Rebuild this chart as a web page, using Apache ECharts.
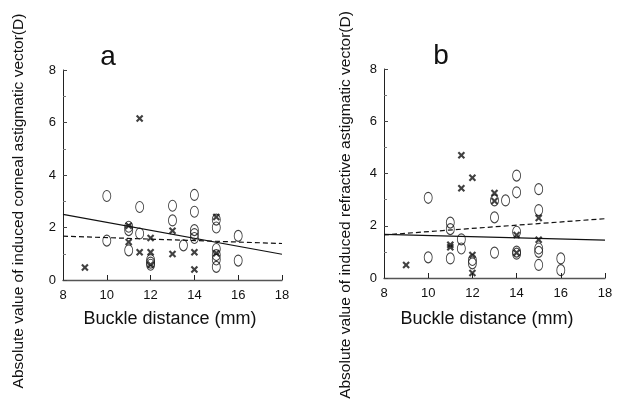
<!DOCTYPE html>
<html>
<head>
<meta charset="utf-8">
<script src="https://cdn.jsdelivr.net/npm/echarts@6/dist/echarts.min.js"></script>
<style>
  html, body { margin: 0; padding: 0; background: #fff; }
  #chart { width: 617px; height: 402px; }
</style>
</head>
<body>
<div id="chart"></div>
<script>
  // values: [buckle distance (mm), |vector| (D)]
  const aCircles = [[10,3.2],[10,1.5],[11,2.03],[11,1.9],[11,1.13],[11.5,2.78],[11.5,1.77],
    [12,0.76],[12,0.66],[12,0.58],[13,2.83],[13,2.27],[13.5,1.32],[14,3.24],[14,2.6],
    [14,1.9],[14,1.75],[14,1.6],[15,2.3],[15,2.0],[15,1.18],[15,0.95],[15,0.78],[15,0.5],
    [16,1.68],[16,0.74]];
  const aCrosses = [[9,0.48],[11.5,6.15],[11,2.07],[11,1.45],[11.5,1.06],[12,1.6],[12,1.06],
    [12,0.58],[13,1.88],[13,0.99],[14,1.06],[14,0.4],[15,2.4],[15,1.02]];
  const aSolid = [[8,2.5],[18,0.98]];
  const aDashed = [[8,1.67],[18,1.39]];

  const bCircles = [[10,3.07],[10,0.79],[11,2.12],[11,1.87],[11,0.75],[11.5,1.48],[11.5,1.13],
    [12,0.69],[12,0.56],[13,2.97],[13,2.32],[13,0.97],[13.5,2.97],[14,3.92],[14,3.28],
    [14,1.77],[14,1.01],[14,0.93],[15,3.4],[15,2.6],[15,1.13],[15,1.0],[15,0.5],
    [16,0.75],[16,0.3]];
  const bCrosses = [[9,0.5],[11.5,4.7],[11.5,3.44],[12,3.84],[11,1.27],[11,1.18],[12,0.88],
    [12,0.19],[13,3.25],[13,2.95],[14,1.65],[14,0.97],[15,2.3],[15,1.46]];
  const bSolid = [[8,1.67],[18,1.45]];
  const bDashed = [[8,1.65],[18,2.27]];

  const xTicks = { min: 8, max: 18, interval: 2 };
  const yTicks = { min: 0, max: 8, interval: 2 };

  const FONT = 'Liberation Sans';
  const crossPath = 'path://M0,2L2,0L5,3L8,0L10,2L7,5L10,8L8,10L5,7L2,10L0,8L3,5Z';

  let myChart = echarts.init(document.getElementById('chart'))

  function xAxisFor(idx) {
    return {
      gridIndex: idx, type: 'value', min: xTicks.min, max: xTicks.max, interval: xTicks.interval,
      axisLine: { lineStyle: { color: '#555', width: 1.4 } },
      axisTick: { inside: true, length: 5, lineStyle: { color: '#222' } },
      axisLabel: { margin: 9, fontSize: 13, color: '#111', fontFamily: FONT },
      splitLine: { show: false }
    }
  }
  function yAxisFor(idx) {
    return {
      gridIndex: idx, type: 'value', min: yTicks.min, max: yTicks.max, interval: yTicks.interval,
      axisLine: { show: true, lineStyle: { color: '#222', width: 1 } },
      axisTick: { show: true, inside: true, length: 4, lineStyle: { color: '#444' } },
      minorTick: { show: true, splitNumber: 2, length: 3, lineStyle: { color: '#777' } },
      axisLabel: { margin: 7, fontSize: 13, color: '#111', fontFamily: FONT },
      splitLine: { show: false }
    }
  }
  function circles(idx, data) {
    return {
      type: 'scatter', xAxisIndex: idx, yAxisIndex: idx, data: data,
      symbol: 'circle', symbolSize: [8, 11],
      itemStyle: { color: 'transparent', borderColor: '#111', borderWidth: 1 }
    }
  }
  function crosses(idx, data) {
    return {
      type: 'scatter', xAxisIndex: idx, yAxisIndex: idx, data: data,
      symbol: crossPath, symbolSize: 7.5,
      itemStyle: { color: '#111' }
    }
  }
  function fit(idx, data, dashed) {
    return {
      type: 'line', xAxisIndex: idx, yAxisIndex: idx, data: data,
      showSymbol: false, silent: true,
      lineStyle: { color: '#111', width: 1.2, type: dashed ? [5, 3] : 'solid' }
    }
  }
  function label(text, x, y, size, rotate) {
    return {
      type: 'text', x: x, y: y, rotation: rotate ? Math.PI / 2 : 0,
      style: {
        text: text, fill: '#111', font: size + 'px "' + FONT + '"',
        textAlign: 'center', textVerticalAlign: 'middle', align: 'center', verticalAlign: 'middle'
      }
    }
  }

  myChart.setOption({
    animation: false,
    grid: [
      { left: 63, top: 70, width: 219, height: 210 },
      { left: 384, top: 69, width: 221, height: 209 }
    ],
    xAxis: [xAxisFor(0), xAxisFor(1)],
    yAxis: [yAxisFor(0), yAxisFor(1)],
    series: [
      fit(0, aSolid, false), fit(0, aDashed, true),
      circles(0, aCircles), crosses(0, aCrosses),
      fit(1, bSolid, false), fit(1, bDashed, true),
      circles(1, bCircles), crosses(1, bCrosses)
    ],
    graphic: [
      label('a', 108, 57, 28, false),
      label('b', 441, 56, 28, false),
      label('Buckle distance (mm)', 170, 319, 18, false),
      label('Buckle distance (mm)', 487, 319, 18, false),
      label('Absolute value of induced corneal astigmatic vector(D)', 19, 201, 15.5, true),
      label('Absolute value of induced refractive astigmatic vector(D)', 346, 205, 15.5, true)
    ]
  })
</script>
</body>
</html>
